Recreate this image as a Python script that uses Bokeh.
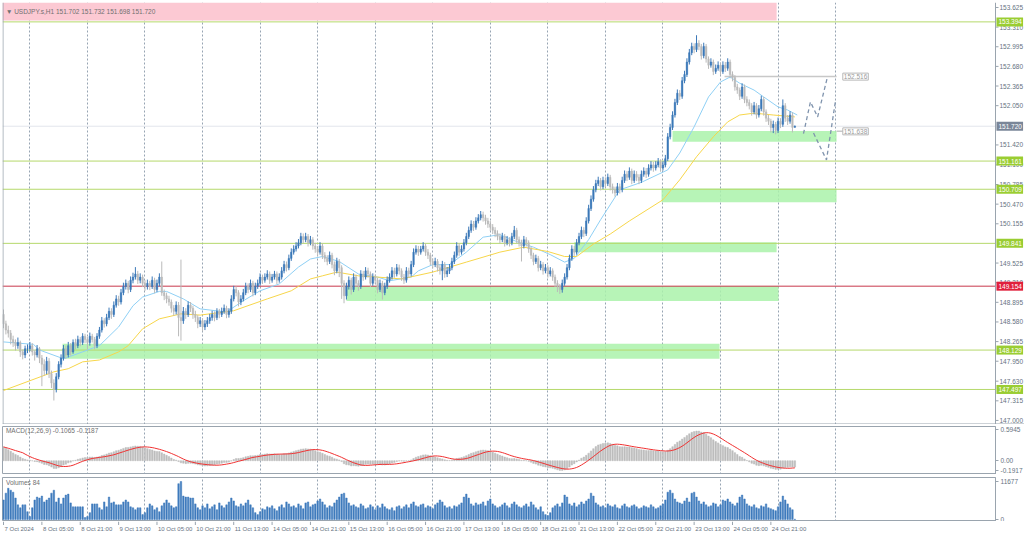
import numpy as np
import pandas as pd
from bokeh.plotting import figure
from bokeh.layouts import column
from bokeh.models import (ColumnDataSource, Range1d, FixedTicker, Label, Span)
from bokeh.core.properties import value
from bokeh.embed import file_html
from bokeh.resources import INLINE

# ---------------- data (H1 bars, index 0 = 7 Oct 2024 13:00) ----------------
first_open = 148.70
last_open = 151.702
close = [
148.55,148.45,148.40,148.30,148.25,148.20,148.25,148.10,148.05,148.15,
148.15,148.20,148.10,148.05,148.15,148.00,147.90,147.80,147.95,147.75,
147.60,147.50,147.70,147.90,148.00,148.15,148.05,148.20,148.10,148.25,
148.20,148.30,148.25,148.35,148.30,148.25,148.35,148.30,148.20,148.35,
148.45,148.60,148.55,148.65,148.75,148.70,148.85,148.95,148.90,149.05,
149.15,149.20,149.10,149.25,149.30,149.35,149.25,149.30,149.20,149.15,
149.20,149.15,149.25,149.10,149.20,149.30,149.05,149.00,148.95,148.90,
148.80,148.75,148.85,148.65,148.60,148.75,148.70,148.85,148.80,148.70,
148.65,148.55,148.60,148.50,148.55,148.60,148.65,148.70,148.65,148.75,
148.70,148.75,148.80,148.70,148.75,148.95,149.10,149.05,148.90,148.95,
149.05,149.15,149.10,149.20,149.05,149.15,149.20,149.30,149.25,149.30,
149.35,149.25,149.30,149.35,149.25,149.30,149.40,149.50,149.45,149.60,
149.70,149.75,149.80,149.85,149.95,149.90,149.95,149.85,149.90,149.80,
149.75,149.70,149.80,149.65,149.60,149.55,149.65,149.50,149.40,149.55,
149.45,149.20,149.00,149.15,149.25,149.10,149.30,149.20,149.15,149.35,
149.30,149.40,149.35,149.20,149.30,149.25,149.10,149.20,149.05,149.15,
149.25,149.30,149.40,149.35,149.45,149.40,149.30,149.25,149.40,149.35,
149.50,149.70,149.75,149.70,149.75,149.80,149.70,149.65,149.55,149.50,
149.55,149.45,149.40,149.50,149.35,149.40,149.45,149.55,149.65,149.80,
149.70,149.75,149.85,149.95,150.05,150.15,150.10,150.20,150.25,150.30,
150.25,150.20,150.15,150.10,150.05,150.00,149.95,149.90,149.95,149.85,
149.90,149.85,149.95,150.05,149.90,149.85,149.80,149.90,149.85,149.75,
149.65,149.55,149.60,149.45,149.50,149.40,149.45,149.35,149.40,149.30,
149.20,149.15,149.10,149.20,149.30,149.45,149.60,149.75,149.70,149.85,
149.95,150.05,150.00,150.20,150.40,150.55,150.70,150.80,150.85,150.75,
150.85,150.80,150.90,150.75,150.70,150.65,150.75,150.70,150.85,150.95,
150.90,151.00,150.85,150.95,150.90,150.85,150.95,151.00,150.95,151.05,
151.10,151.05,151.10,151.15,151.05,151.10,151.20,151.55,151.70,151.90,
152.10,152.25,152.20,152.45,152.55,152.75,152.90,153.00,152.95,153.05,
153.00,152.85,153.00,152.80,152.70,152.75,152.60,152.65,152.70,152.60,
152.70,152.65,152.75,152.55,152.50,152.35,152.30,152.20,152.35,152.15,
152.10,152.05,151.95,152.05,151.90,152.00,152.15,151.95,151.85,151.80,
151.70,151.75,151.65,151.80,151.75,152.05,151.85,151.80,151.90,151.70,
151.72]
high = [
148.78,148.60,148.52,148.45,148.36,148.30,148.33,148.28,148.14,148.20,
148.22,148.26,148.24,148.13,148.21,148.18,148.05,147.98,148.02,148.00,
147.80,147.66,147.76,147.95,148.06,148.21,148.20,148.26,148.24,148.30,
148.31,148.36,148.34,148.40,148.39,148.34,148.41,148.39,148.34,148.40,
148.50,148.66,148.64,148.71,148.81,148.80,148.91,149.01,149.00,149.11,
149.21,149.26,149.24,149.31,149.37,149.46,149.40,149.36,149.34,149.25,
149.26,149.24,149.31,149.29,149.26,149.36,149.55,149.10,149.05,149.00,
148.94,148.85,148.91,148.90,149.58,148.82,148.80,148.91,148.90,148.84,
148.76,148.69,148.66,148.64,148.61,148.66,148.71,148.76,148.75,148.80,
148.79,148.81,148.86,148.84,148.80,149.01,149.16,149.15,149.09,149.01,
149.11,149.21,149.20,149.26,149.24,149.21,149.26,149.36,149.34,149.36,
149.41,149.39,149.35,149.40,149.39,149.36,149.46,149.56,149.55,149.66,
149.76,149.81,149.86,149.91,150.01,150.00,150.01,149.99,149.96,149.94,
149.85,149.80,149.86,149.84,149.70,149.65,149.71,149.69,149.55,149.61,
149.59,149.49,149.25,149.21,149.31,149.29,149.36,149.34,149.25,149.41,
149.40,149.46,149.45,149.39,149.36,149.34,149.29,149.26,149.24,149.21,
149.31,149.36,149.46,149.45,149.51,149.50,149.44,149.35,149.46,149.45,
149.56,149.76,149.81,149.80,149.80,149.86,149.84,149.75,149.69,149.60,
149.61,149.59,149.50,149.56,149.54,149.46,149.51,149.61,149.71,149.86,
149.84,149.81,149.91,150.01,150.11,150.21,150.20,150.26,150.31,150.36,
150.35,150.30,150.25,150.20,150.15,150.10,150.05,150.00,150.01,149.99,
149.96,149.94,150.01,150.12,150.09,149.95,149.90,149.96,149.94,149.89,
149.79,149.69,149.66,149.64,149.56,149.54,149.51,149.49,149.46,149.44,
149.34,149.25,149.19,149.26,149.36,149.51,149.66,149.81,149.80,149.91,
150.01,150.11,150.10,150.26,150.46,150.61,150.76,150.86,150.91,150.89,
150.91,150.90,150.96,150.94,150.80,150.75,150.81,150.80,150.91,151.01,
151.00,151.06,151.04,151.01,151.00,150.95,151.01,151.06,151.05,151.11,
151.16,151.15,151.16,151.21,151.19,151.16,151.26,151.61,151.76,151.96,
152.16,152.31,152.30,152.51,152.61,152.81,152.96,153.06,153.05,153.18,
153.10,153.04,153.06,153.04,152.84,152.81,152.79,152.71,152.76,152.74,
152.76,152.75,152.81,152.79,152.60,152.54,152.40,152.34,152.41,152.39,
152.20,152.15,152.09,152.11,152.09,152.06,152.21,152.19,151.99,151.90,
151.84,151.81,151.79,151.86,151.85,152.15,152.09,151.90,151.96,151.94,
151.732]
low = [
148.48,148.38,148.33,148.22,148.18,148.12,148.15,148.02,147.98,148.00,
148.08,148.11,148.04,147.96,148.01,147.92,147.55,147.72,147.74,147.68,
147.52,147.32,147.45,147.66,147.85,147.96,147.99,148.01,148.04,148.07,
148.14,148.16,148.19,148.21,148.24,148.14,148.20,148.25,148.14,148.16,
148.31,148.41,148.49,148.51,148.61,148.63,148.66,148.81,148.84,148.86,
149.01,149.10,149.04,149.06,149.20,149.26,149.19,149.20,149.14,149.08,
149.10,149.09,149.11,149.04,149.06,149.15,149.00,148.93,148.88,148.84,
148.73,148.68,148.70,148.35,148.28,148.55,148.63,148.66,148.74,148.63,
148.58,148.48,148.50,148.43,148.45,148.50,148.55,148.60,148.59,148.61,
148.64,148.66,148.71,148.64,148.65,148.71,148.91,148.99,148.83,148.85,
148.91,149.01,149.04,149.06,148.99,149.01,149.11,149.16,149.19,149.21,
149.26,149.19,149.21,149.26,149.19,149.21,149.26,149.36,149.39,149.41,
149.56,149.66,149.71,149.76,149.81,149.84,149.86,149.79,149.81,149.74,
149.69,149.64,149.66,149.59,149.54,149.49,149.51,149.44,149.33,149.36,
149.30,148.95,148.88,148.94,149.10,149.02,149.06,149.14,149.08,149.11,
149.24,149.26,149.29,149.14,149.16,149.19,149.04,149.06,148.94,149.01,
149.11,149.21,149.26,149.29,149.31,149.34,149.24,149.19,149.21,149.29,
149.31,149.46,149.66,149.64,149.66,149.71,149.64,149.59,149.49,149.44,
149.46,149.39,149.34,149.25,149.29,149.30,149.35,149.41,149.51,149.61,
149.64,149.66,149.71,149.81,149.91,150.01,150.04,150.06,150.16,150.21,
150.19,150.14,150.09,150.04,149.99,149.94,149.89,149.84,149.86,149.79,
149.81,149.79,149.81,149.91,149.84,149.79,149.55,149.76,149.79,149.69,
149.59,149.49,149.51,149.39,149.41,149.34,149.36,149.29,149.31,149.24,
149.14,149.06,149.03,149.05,149.16,149.26,149.41,149.56,149.64,149.66,
149.81,149.91,149.94,149.96,150.16,150.36,150.51,150.66,150.76,150.69,
150.71,150.74,150.76,150.69,150.64,150.59,150.61,150.64,150.66,150.81,
150.84,150.86,150.79,150.81,150.84,150.79,150.81,150.91,150.89,150.91,
151.01,150.99,151.01,151.06,150.99,151.01,151.06,151.16,151.51,151.66,
151.86,152.06,152.14,152.16,152.41,152.51,152.71,152.86,152.89,152.91,
152.94,152.79,152.81,152.74,152.64,152.66,152.54,152.56,152.61,152.54,
152.56,152.59,152.61,152.49,152.44,152.29,152.24,152.14,152.16,152.09,
152.04,151.99,151.89,151.91,151.84,151.86,151.96,151.89,151.79,151.74,
151.62,151.61,151.59,151.61,151.69,151.71,151.79,151.74,151.76,151.62,
151.698]
volume = [
6000,8100,9600,9000,8400,6600,4500,3600,4500,4500,
2400,900,3600,6000,6900,6600,7200,5400,6000,6600,
8100,9000,5400,6600,4800,6600,7500,7800,5100,3900,
3900,3900,3900,3900,600,900,2100,4800,4800,4800,
3600,3000,5400,3900,6900,5100,5400,4500,4500,4500,
5400,6000,5400,3900,3600,3000,3600,3600,1500,2100,
3600,4800,4200,3000,3600,2400,4200,5100,6000,5100,
4200,3600,3900,11000,11677,7200,6900,6900,6600,6600,
4800,3600,3000,
4200,3600,4800,3300,3900,4500,3000,5100,4200,3600,
4500,5400,6600,5700,4200,3900,4800,4200,5100,6000,
4500,3600,2100,1500,2400,3300,3000,3900,3600,4200,
3300,2700,3900,4500,3600,5400,4800,3900,4200,3600,
4800,4200,3300,5100,5400,3900,4500,4800,5700,6300,
5400,4500,3600,4200,3900,5100,6000,6900,7800,8100,
6600,5100,4200,4500,3900,3600,4800,4200,3300,3600,
4500,3900,3000,4200,3600,4800,3900,3300,3000,3600,
2700,3900,4200,3300,3900,4500,3600,4800,5400,4200,
3900,4500,4800,3600,4200,3900,3300,4500,5100,6000,
5400,4200,3600,3900,3300,4200,3900,4500,5100,6900,
7800,6600,4800,4200,5100,4500,4800,5400,4200,5700,
6300,4800,4200,3600,3900,4500,5100,4200,3600,4800,
5400,4500,3900,3600,4200,4800,3900,5400,4500,3600,
3000,3900,2400,1500,1200,2100,3600,4200,4800,3900,
5100,7500,6900,4800,4200,5100,3900,4500,5400,4800,
5700,6300,8100,7200,5100,4500,3900,4200,3600,4800,
4200,3900,4500,3600,3300,4200,4800,3900,3600,4200,
4500,3900,3300,3600,4200,3900,3600,4500,3900,3300,
3600,4200,4800,6000,8400,9000,8100,6300,5400,5100,
4800,5700,6600,5400,8100,8400,6900,5700,4800,5400,
4500,3900,4200,5100,4800,3900,4500,6000,5700,6300,
5400,4800,4200,5100,6900,7500,6300,4800,4200,3900,
4500,3600,3300,4200,3900,4800,3600,3300,3000,2700,
3900,5400,7200,6000,4800,3600,3000,84]
assert len(close) == len(high) == len(low) == len(volume) == 331

# moving averages (bar index, price)
ma_fast_x = [0,12.5,15,25,33,40,48,54,58,65,68,75,82,93,100,107,115,123,128,133,140,148,156,161,
             170,173,179,186,193,200,207,214,221,228,234,238,244,249,257,266,277,282,288,294,299,
             303,307,313,317,323,327,331]
ma_fast_y = [148.26,148.22,148.13,147.99,148.10,148.20,148.50,148.84,148.98,149.07,149.07,148.95,
             148.79,148.74,148.92,149.08,149.19,149.46,149.59,149.63,149.55,149.35,149.30,149.24,
             149.30,149.40,149.50,149.50,149.70,149.94,149.98,149.87,149.78,149.66,149.54,149.60,
             149.90,150.22,150.70,150.82,151.02,151.29,151.71,152.19,152.43,152.51,152.41,152.30,
             152.19,152.03,151.98,151.90]
ma_slow_x = [0,21,27,33,40,48,52,58,65,74,82,96,110,120,128,133,139,148,156,166,179,193,207,217,
             227,234,239,246,253,261,275,282,289,296,302,307,313,321,330]
ma_slow_y = [147.48,147.78,147.83,147.94,147.97,148.10,148.20,148.47,148.63,148.71,148.69,148.76,
             148.95,149.08,149.27,149.32,149.38,149.32,149.30,149.27,149.38,149.54,149.70,149.78,
             149.71,149.63,149.63,149.83,149.99,150.20,150.54,150.86,151.23,151.55,151.79,151.90,
             151.93,151.90,151.87]
ema_seed_fast, ema_seed_slow = 148.52, 148.24   # EMA state before the first bar

# levels / zones / projections
green_levels = [153.394, 151.161, 150.709, 149.841, 148.129, 147.497]
red_level = 149.154
bid_level = 151.720
zone_left = [279.0, 274.4, 238.0, 143.0, 24.6]
zone_right = [347.4, 347.4, 322.4, 323.2, 298.6]
zone_top = [151.645, 150.72, 149.86, 149.155, 148.23]
zone_bottom = [151.47, 150.50, 149.70, 148.915, 147.99]
pink_left, pink_right, pink_bottom = -0.5, 322.4, 153.415
target_level, target_from, target_to = 152.516, 300.7, 347.4
stop_level = 151.638
proj_up_x = [333.6, 336.5, 339.5, 343.6]
proj_up_y = [151.60, 152.11, 151.87, 152.51]
proj_dn_x = [337.8, 343.2, 347.0]
proj_dn_y = [151.61, 151.18, 152.14]

day_ticks = [11, 35, 59, 83, 107, 131, 155, 179, 203, 227, 251, 275, 299, 323, 347]
time_ticks = list(range(0, 321, 16))
time_labels = ["7 Oct 2024", "8 Oct 05:00", "8 Oct 21:00", "9 Oct 13:00", "10 Oct 05:00",
               "10 Oct 21:00", "11 Oct 13:00", "14 Oct 05:00", "14 Oct 21:00", "15 Oct 13:00",
               "16 Oct 05:00", "16 Oct 21:00", "17 Oct 13:00", "18 Oct 05:00", "18 Oct 21:00",
               "21 Oct 13:00", "22 Oct 05:00", "22 Oct 21:00", "23 Oct 13:00", "24 Oct 05:00",
               "24 Oct 21:00"]
price_ticks = [153.625, 153.310, 152.995, 152.680, 152.365, 152.050, 151.420, 151.100, 150.785,
               150.470, 150.155, 149.525, 149.210, 148.895, 148.580, 148.265, 147.950, 147.630,
               147.315, 147.000]

# ---------------- derived ----------------
idx = np.arange(len(close))
c = np.array(close)
o = np.concatenate([[first_open], c[:-1]])
o[-1] = last_open
bull = c >= o
BULL, BEAR = "#3b78b8", "#bababa"
cols = [BULL if b else BEAR for b in bull]
src = ColumnDataSource(dict(x=idx, h=high, l=low, top=np.maximum(o, c),
                            bot=np.minimum(o, c), col=cols, vol=volume))

def ema(vals, n, seed):
    a = 2.0 / (n + 1); e = seed; out = []
    for v in vals:
        e = e + a * (v - e); out.append(e)
    return np.array(out)

macd = ema(c, 12, ema_seed_fast) - ema(c, 26, ema_seed_slow)
signal = pd.Series(macd).rolling(9, min_periods=1).mean().values
msrc = ColumnDataSource(dict(x=idx, m=macd, s=signal))

# ---------------- geometry ----------------
PX_PER_BAR = 2.398
FW = 993            # plotting area width
AXW = 29            # right price-scale width
X0 = -0.42
X1 = X0 + FW / PX_PER_BAR            # right edge of the plotting area (axis line)
X1_MAIN = X0 + (FW + AXW) / PX_PER_BAR
Y0, Y1 = 146.935, 153.705
PX_PER_PRICE = 422 / (Y1 - Y0)

AX = "#9aa4ae"
TXT = "#66727f"
FONT = "Liberation Sans"
FS = "6.5px"
FS_SMALL = "6px"

def style_grid(fig):
    fig.ygrid.visible = False
    fig.xgrid.ticker = FixedTicker(ticks=day_ticks)
    fig.xgrid.grid_line_color = "#97a4b3"
    fig.xgrid.grid_line_dash = "2 2"

def style_axis(ax, fs=FS):
    ax.axis_line_color = AX
    ax.major_tick_line_color = AX
    ax.major_tick_out = 3
    ax.major_tick_in = 0
    ax.minor_tick_line_color = None
    ax.major_label_text_font_size = fs
    ax.major_label_text_color = TXT
    ax.major_label_text_font = FONT
    ax.major_label_standoff = 2

# ---------------- main price panel (price scale drawn inside its frame) ----------------
p = figure(frame_width=FW + AXW, frame_height=422, x_range=Range1d(X0, X1_MAIN),
           y_range=Range1d(Y0, Y1), x_axis_location=None, y_axis_location=None,
           output_backend="svg", toolbar_location=None, min_border_left=2, min_border_right=0,
           min_border_top=2, min_border_bottom=0, outline_line_color=None,
           background_fill_color="white", border_fill_color="white")
style_grid(p)

p.quad(left=[pink_left], right=[pink_right], top=[Y1], bottom=[pink_bottom],
       fill_color="#fcc9d3", line_color=None)
p.quad(left=zone_left, right=zone_right, top=zone_top, bottom=zone_bottom,
       fill_color="#aaf2aa", fill_alpha=0.85, line_color=None)
for lv in green_levels:
    p.segment(x0=[X0], y0=[lv], x1=[X1], y1=[lv], line_color="#b5d96b", line_width=1)
p.segment(x0=[X0], y0=[red_level], x1=[X1], y1=[red_level], line_color="#c8374c", line_width=1)
p.segment(x0=[X0], y0=[bid_level], x1=[X1], y1=[bid_level], line_color="#e2e5ec", line_width=1)
p.segment(x0=[target_from], y0=[target_level], x1=[target_to], y1=[target_level],
          line_color="#c8c8c8", line_width=1.5)
p.segment(x0=[target_to], y0=[stop_level], x1=[target_to + 2.8], y1=[stop_level],
          line_color="#c8c8c8", line_width=1.5)

p.line(ma_fast_x, ma_fast_y, line_color="#8fd0f5", line_width=1)
p.line(ma_slow_x, ma_slow_y, line_color="#f7d64a", line_width=1)

p.segment(x0="x", y0="l", x1="x", y1="h", line_color="col", line_width=1, source=src)
p.vbar(x="x", width=0.62, top="top", bottom="bot", fill_color="col", line_color="col",
       line_width=0.5, source=src)

p.line(proj_up_x, proj_up_y, line_color="#7f93ad", line_width=1.3, line_dash="4 3")
p.line(proj_dn_x, proj_dn_y, line_color="#7f93ad", line_width=1.3, line_dash="4 3")

for lv, txt in [(target_level, f"{target_level:.3f}"), (stop_level, f"{stop_level:.3f}")]:
    p.add_layout(Label(x=target_to + 2.6, y=lv, text=txt, text_font_size=FS, text_font=FONT,
                       text_color="#9a9a9a", text_baseline="middle", background_fill_color="white",
                       border_line_color="#b8b8b8", padding=1))

# frame borders and price scale
p.add_layout(Span(location=X1, dimension="height", line_color=AX, line_width=1))
p.add_layout(Span(location=X0 + 0.2, dimension="height", line_color=AX, line_width=1))
p.add_layout(Span(location=Y0 + 0.5 / PX_PER_PRICE, dimension="width", line_color=AX, line_width=1))
tick_len = 3 / PX_PER_BAR
p.segment(x0=[X1] * len(price_ticks), y0=price_ticks, x1=[X1 + tick_len] * len(price_ticks),
          y1=price_ticks, line_color=AX, line_width=1)
p.text(x=[X1] * len(price_ticks), y=price_ticks, text=[f"{t:.3f}" for t in price_ticks],
       x_offset=4, text_font=value(FONT), text_font_size=FS, text_color=TXT,
       text_baseline="middle", text_align="left")

tag_y = green_levels + [red_level, bid_level]
tag_col = ["#9acd32"] * len(green_levels) + ["#e0203c", "#7a8698"]
half_h = 4.5 / PX_PER_PRICE
p.quad(left=[X1 + 0.4] * len(tag_y), right=[X1_MAIN - 0.6] * len(tag_y),
       top=[y + half_h for y in tag_y], bottom=[y - half_h for y in tag_y],
       fill_color=tag_col, line_color=None)
p.text(x=[X1 + 0.4] * len(tag_y), y=tag_y, text=[f"{y:.3f}" for y in tag_y], x_offset=2,
       text_font=value(FONT), text_font_size=FS, text_color="white",
       text_baseline="middle", text_align="left")

p.add_layout(Label(x=1.0, y=153.565, text="\u25bc USDJPY.s,H1  151.702 151.732 151.698 151.720",
                   text_font_size=FS, text_font=FONT, text_color="#707070",
                   text_baseline="middle"))

# ---------------- MACD panel ----------------
common = dict(frame_width=FW, x_range=Range1d(X0, X1), output_backend="svg",
              toolbar_location=None, min_border_left=2, min_border_right=AXW,
              y_axis_location="right", background_fill_color="white",
              border_fill_color="white", outline_line_color=AX)
m = figure(frame_height=48, y_range=Range1d(-0.26, 0.647), x_axis_location=None,
           min_border_top=2, min_border_bottom=0, **common)
style_grid(m)
style_axis(m.yaxis[0])
m.yaxis.ticker = FixedTicker(ticks=[0.5945, 0.0, -0.1917])
m.yaxis.major_label_overrides = {0.5945: "0.5945", 0: "0.00", -0.1917: "-0.1917"}
m.vbar(x="x", width=0.62, top="m", bottom=0, fill_color="#bdbdbd", line_color="#bdbdbd",
       line_width=0.5, source=msrc)
m.line(x="x", y="s", line_color="#f03030", line_width=1, source=msrc)
m.add_layout(Label(x=1.0, y=0.63, text="MACD(12,26,9) -0.1065 -0.1187", text_font_size=FS,
                   text_font=FONT, text_color="#707070", text_baseline="top"))

# ---------------- Volume panel ----------------
v = figure(frame_height=44, y_range=Range1d(-614, 12905), min_border_top=3,
           min_border_bottom=0, x_axis_location=None, **common)
style_grid(v)
style_axis(v.yaxis[0])
v.yaxis.ticker = FixedTicker(ticks=[0, 11677])
v.yaxis.major_label_overrides = {0: "0", 11677: "11677"}
v.vbar(x="x", width=0.62, top="vol", bottom=0, fill_color="#3f7bbd", line_color="#3f7bbd",
       line_width=0.5, source=src)
v.add_layout(Label(x=1.0, y=12400, text="Volumes 84", text_font_size=FS, text_font=FONT,
                   text_color="#707070", text_baseline="top"))

# ---------------- time scale strip (labels start at their tick, as in the terminal) ----------------
t = figure(frame_width=FW, frame_height=16, x_range=v.x_range, y_range=Range1d(0, 16),
           x_axis_location=None, y_axis_location=None, output_backend="svg",
           toolbar_location=None, min_border_left=2, min_border_right=AXW, min_border_top=0,
           min_border_bottom=0, outline_line_color=None, background_fill_color="white",
           border_fill_color="white")
t.xgrid.visible = False
t.ygrid.visible = False
t.segment(x0=time_ticks, y0=[16] * len(time_ticks), x1=time_ticks, y1=[12.5] * len(time_ticks),
          line_color=AX, line_width=1)
t.text(x=time_ticks, y=[8.5] * len(time_ticks), text=time_labels, x_offset=1,
       text_font=value(FONT), text_font_size=FS_SMALL, text_color=TXT,
       text_baseline="middle", text_align="left")

layout = column(p, m, v, t)
open("out.html", "w").write(file_html(layout, INLINE, "USDJPY H1"))
